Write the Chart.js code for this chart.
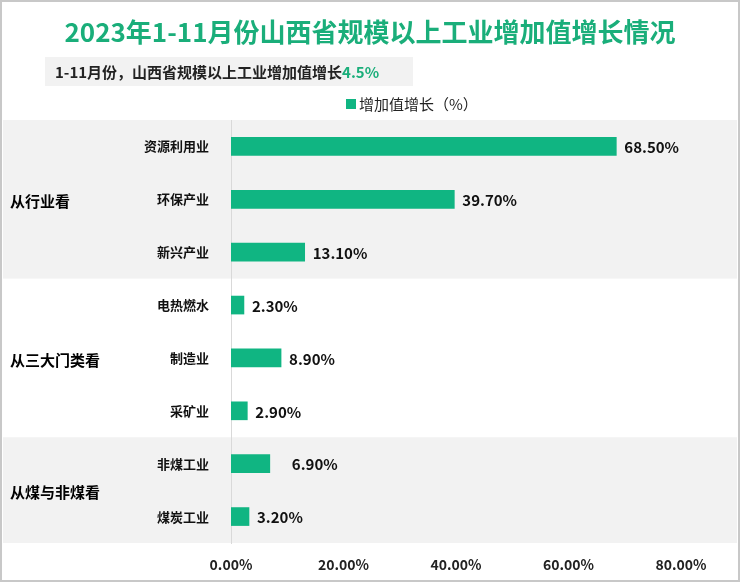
<!DOCTYPE html>
<html><head><meta charset="utf-8">
<script src="https://cdn.jsdelivr.net/npm/chart.js@4"></script>
<style>html,body{margin:0;padding:0;background:#fff}#w{width:740px;height:582px}</style>
</head><body><div id="w"><canvas id="c"></canvas></div>
<script>
const categories = ['资源利用业','环保产业','新兴产业','电热燃水','制造业','采矿业','非煤工业','煤炭工业'];
const values = [68.5, 39.7, 13.1, 2.3, 8.9, 2.9, 6.9, 3.2];
const groups = [['从行业看',0,2],['从三大门类看',3,5],['从煤与非煤看',6,7]];
const xTicks = [0,20,40,60,80];
const seriesName = '增加值增长（%）';
const titleText = '2023年1-11月份山西省规模以上工业增加值增长情况';
const subText = '1-11月份，山西省规模以上工业增加值增长';
const subValue = '4.5%';
const GREEN = '#10b582';
const F = '"Microsoft YaHei","Noto Sans CJK SC",sans-serif';

const deco = {
  id:'deco',
  beforeDraw(ch){
    const c=ch.ctx, a=ch.chartArea, y=ch.scales.y;
    c.save();
    c.fillStyle='#fff';c.fillRect(0,0,ch.width,ch.height);
    const step = y.getPixelForValue(1)-y.getPixelForValue(0);
    groups.forEach((g,i)=>{
      const t=y.getPixelForValue(g[1])-step/2, b=y.getPixelForValue(g[2])+step/2;
      if(i%2===0){c.fillStyle='#f2f2f2';c.fillRect(3,t,ch.width-6,b-t);}
      c.fillStyle='#000';c.font='bold 15px '+F;c.textAlign='left';c.textBaseline='middle';
      c.fillText(g[0],10,(t+b)/2+2);
    });
    c.fillStyle='#1aae7a';c.font='bold 26px '+F;c.textAlign='center';c.textBaseline='middle';
    c.fillText(titleText,370,32);
    c.fillStyle='#f2f2f2';c.fillRect(45,57,368,29);
    c.font='bold 15px '+F;c.textAlign='left';c.fillStyle='#222';
    c.fillText(subText,55,72);
    const w=c.measureText(subText).width;
    c.fillStyle='#1aae7a';c.fillText(subValue,55+w,72);
    c.fillStyle=GREEN;c.fillRect(346,99,10,10);
    c.fillStyle='#222';c.font='15px '+F;c.fillText(seriesName,359,104);
    c.restore();
  },
  afterDraw(ch){
    const c=ch.ctx, m=ch.getDatasetMeta(0);
    c.save();
    c.font='bold 15px '+F;c.fillStyle='#111';c.textBaseline='middle';c.textAlign='left';
    m.data.forEach((b,i)=>c.fillText(values[i].toFixed(2)+'%',b.x+(i===6?22:8),b.y+1));
    c.strokeStyle='#c8c8c8';c.lineWidth=2;c.strokeRect(1,1,ch.width-2,ch.height-2);
    c.restore();
  }
};

new Chart(document.getElementById('c'),{
  type:'bar',
  data:{labels:categories,datasets:[{label:seriesName,data:values,backgroundColor:GREEN,barThickness:18}]},
  options:{
    indexAxis:'y',responsive:true,maintainAspectRatio:false,animation:false,
    layout:{padding:{top:120,right:59,bottom:6,left:10}},
    plugins:{legend:{display:false},tooltip:{enabled:false}},
    scales:{
      x:{min:0,max:80,afterBuildTicks(s){s.ticks=xTicks.map(v=>({value:v}));},
        afterFit(s){s.height=33;},
        grid:{display:false},border:{display:false},
        ticks:{color:'#222',font:{family:F,size:14,weight:'bold'},padding:5,callback:v=>v.toFixed(2)+'%'}},
      y:{grid:{display:false},border:{color:'#d9d9d9'},
        afterFit(s){s.width=221;},
        ticks:{color:'#111',font:{family:F,size:13,weight:'bold'},padding:14}}
    }
  },
  plugins:[deco]
});
</script></body></html>
